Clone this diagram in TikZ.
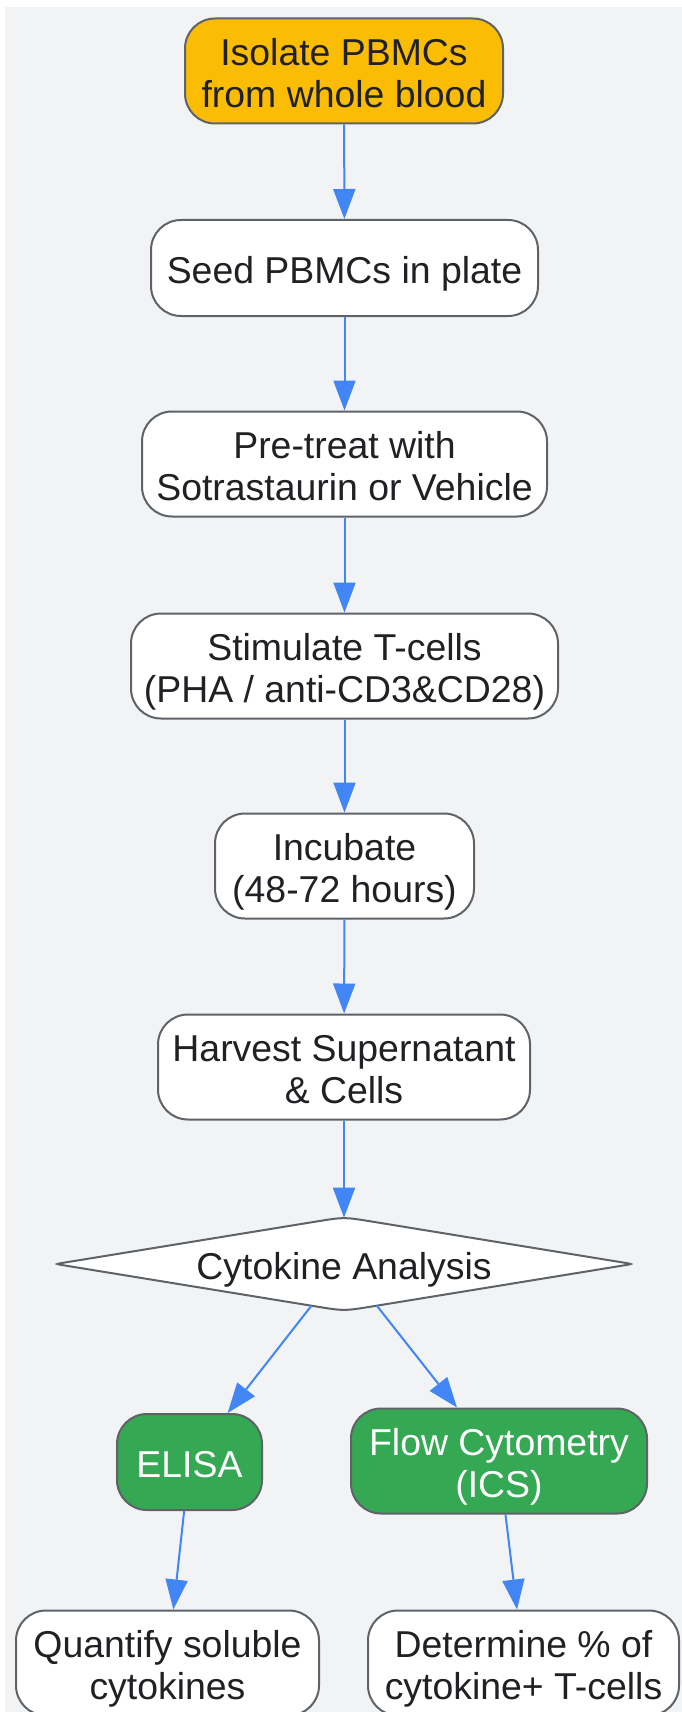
\documentclass[tikz,border=0pt]{standalone}
\usepackage{fontspec}
\setmainfont{Liberation Sans}
\usetikzlibrary{shapes.geometric,arrows.meta}
\definecolor{bgcol}{HTML}{F1F3F4}
\definecolor{edgecol}{HTML}{5F6368}
\definecolor{arrowcol}{HTML}{4285F4}
\definecolor{startcol}{HTML}{FBBC04}
\definecolor{methodcol}{HTML}{34A853}
\definecolor{txtcol}{HTML}{202124}

\begin{document}
\begin{tikzpicture}[x=1pt,y=-1pt,
    boxfont/.style={font=\fontsize{37.4}{41.7}\selectfont,
      execute at begin node={\noindent\vrule width0pt height1.03em depth0pt},
      execute at end node={\vrule width0pt height0pt depth0.2em}},
    stepbox/.style={draw=edgecol,line width=2pt,fill=white,rounded corners=30pt,
      text=txtcol,align=flush center,inner sep=0pt,minimum height=105pt,boxfont},
    startbox/.style={stepbox,fill=startcol},
    methodbox/.style={stepbox,fill=methodcol,text=white},
    choice/.style={diamond,text=txtcol,inner sep=0pt,aspect=6.4,
      minimum width=576pt,minimum height=92pt,boxfont},
    choiceedge/.style={draw=edgecol,line width=2pt,fill=white},
    link/.style={draw=arrowcol,line width=2pt,-{Triangle[length=30pt,width=22pt]}}]
                \useasboundingbox (0,0) rectangle (682,1712);
                \fill[bgcol] (5,7) rectangle (682,1712);

                \node[startbox,text width=318pt] (iso) at (344,71) {Isolate PBMCs\\from whole blood};
                \node[stepbox,text width=387pt,minimum height=96pt] (seed) at (344.5,268) {Seed PBMCs in plate};
                \node[stepbox,text width=405pt] (pretreat) at (344.5,464) {Pre-treat with\\Sotrastaurin or Vehicle};
                \node[stepbox,text width=427pt] (stim) at (344.5,666) {Stimulate T-cells\\(PHA / anti-CD3\&CD28)};
                \node[stepbox,text width=259pt] (incub) at (344.5,866) {Incubate\\(48-72 hours)};
                \node[stepbox,text width=372pt] (harvest) at (344,1067) {Harvest Supernatant\\\& Cells};

                % diamond outline, with wide round tips top and bottom
                \draw[choiceedge,shift={(344,1264)}] (27.6,-42.5) -- (282.1,-1)
                    .. controls (288,0) .. (282.1,1) -- (27.6,42.5)
                    .. controls (0,47) .. (-27.6,42.5) -- (-282.1,1)
                    .. controls (-288,0) .. (-282.1,-1) -- (-27.6,-42.5)
                    .. controls (0,-47) .. (27.6,-42.5) -- cycle;
                \node[choice] (cyto) at (344,1264) {Cytokine Analysis};

                \node[methodbox,text width=145pt,minimum height=96pt] (elisa) at (189.5,1462) {ELISA};
                \node[methodbox,text width=296pt] (facs) at (499,1461) {Flow Cytometry\\(ICS)};
                \node[stepbox,text width=303pt] (quant) at (167.5,1663) {Quantify soluble\\cytokines};
                \node[stepbox,text width=311pt] (percent) at (523.5,1663) {Determine \% of\\cytokine+ T-cells};

                \draw[link] (iso) -- (seed);
                \draw[link] (seed) -- (pretreat);
                \draw[link] (pretreat) -- (stim);
                \draw[link] (stim) -- (incub);
                \draw[link] (incub) -- (harvest);
                \draw[link] (harvest) -- (cyto);
                \draw[link] (cyto) -- (elisa);
                \draw[link] (cyto) -- (facs);
                \draw[link] (elisa) -- (quant);
                \draw[link] (facs) -- (percent);
            \end{tikzpicture}
\end{document}
